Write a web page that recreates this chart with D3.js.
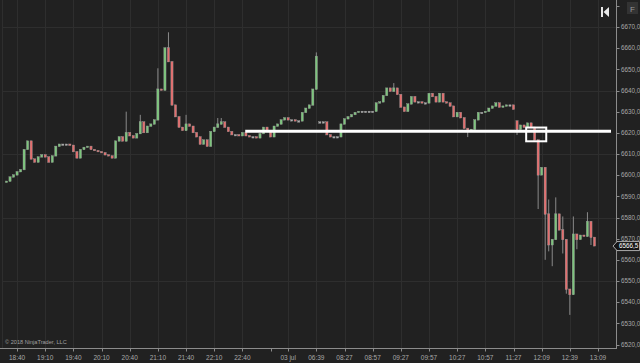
<!DOCTYPE html>
<html><head><meta charset="utf-8">
<script src="https://cdn.jsdelivr.net/npm/d3@7"></script>
<style>html,body{margin:0;padding:0;background:#212121;overflow:hidden}</style>
</head><body><svg id="c" width="640" height="363"></svg>
<script>
// ---- data (bar index -> OHLC) ----
const opens = [6596.5,6597,6599,6600,6601.5,6602.5,6612,6616,6607.5,6606,
 6608.5,6609.5,6608.5,6606,6609,6613.5,6614.5,6614.5,6614.5,6614,
 6611,6608,6612,6613,6613.5,6612,6611.5,6611,6610.5,6609.5,
 6609,6608,6616,6618,6616,6620,6618.5,6617.5,6619.5,6625,
 6620,6623,6624,6626,6640.5,6640,6660,6653.5,6633,6627.5,
 6622.5,6621,6624,6623,6620,6618,6614.5,6616.5,6613.5,6620.5,
 6622.5,6624,6625,6622.5,6620.5,6619,6619,6618.5,6620,6618.5,
 6618,6618,6617.5,6619.5,6622.5,6621,6618,6623,6624,6626,
 6627,6626,6626,6625.5,6625.5,6629.5,6631.5,6633,6640.5,6625,
 6625,6625,6619,6618,6618,6618,6624,6626.5,6627.5,6628.5,
 6629.5,6630,6630,6630,6630,6630,6634,6634.5,6637.5,6641,
 6639.5,6641,6638,6632,6630,6633.5,6637,6634.5,6634.5,6634,
 6634,6638.5,6637,6634.5,6638.5,6634.5,6634,6632.5,6627.5,6629.5,
 6627,6622,6620.5,6621.5,6626,6629.5,6629.5,6630,6631.5,6632.5,
 6634,6632,6632.5,6633,6633,6625.5,6621.5,6623.5,6622.5,6624.5,
 6622.5,6616.5,6600,6603.5,6581.5,6567,6569.5,6581.5,6574,6569.5,
 6546,6543.5,6572,6569.5,6571.5,6571,6578,6570.5];
const closes = [6597,6599,6600,6601.5,6602.5,6612,6616,6607.5,6606,6608.5,
 6609.5,6608.5,6606,6609,6613.5,6614.5,6614.5,6614.5,6614,6611,
 6608,6612,6613,6613.5,6612,6611.5,6611,6610.5,6609.5,6609,
 6608,6616,6618,6616,6620,6618.5,6617.5,6619.5,6625,6620,
 6623,6624,6626,6640.5,6640,6660,6653.5,6633,6627.5,6622.5,
 6621,6624,6623,6620,6618,6614.5,6616.5,6613.5,6620.5,6622.5,
 6624,6625,6622.5,6620.5,6619,6619,6618.5,6620,6618.5,6618,
 6618,6617.5,6619.5,6622.5,6621,6618,6623,6624,6626,6627,
 6626,6626,6625.5,6625.5,6629.5,6631.5,6633,6640.5,6656,6625,
 6625,6619,6618,6618,6618,6624,6626.5,6627.5,6628.5,6629.5,
 6630,6630,6630,6630,6630,6634,6634.5,6637.5,6641,6639.5,
 6641,6638,6632,6630,6633.5,6637,6634.5,6634.5,6634,6634,
 6638.5,6637,6634.5,6638.5,6634.5,6634,6632.5,6627.5,6629.5,6627,
 6622,6620.5,6621.5,6626,6629.5,6629.5,6630,6631.5,6632.5,6634,
 6632,6632.5,6633,6633,6631,6621.5,6623.5,6622.5,6624.5,6622.5,
 6616.5,6600,6603.5,6581.5,6567,6569.5,6581.5,6574,6569.5,6546,
 6543.5,6572,6569.5,6571.5,6571,6578,6570.5,6566.5];
// wick extremes beyond the body (bar index -> price)
const wickHigh = {34:6630,38:6628.5,43:6650.5,46:6667.5,51:6628.5,60:6627,61:6627,
  88:6658,110:6643.5,145:6625.5,154:6588.5,156:6589.5,158:6580.5,161:6580.5,165:6582.5};
const wickLow = {131:6618,145:6619,151:6584,153:6560,154:6564,155:6557,158:6563,
  159:6544,160:6534,162:6565,166:6567};

const priceTicks = d3.range(6520, 6681, 10);
const gridPrices = [6550, 6580, 6610, 6640, 6670];
const xTickIdx = [3,11,19,27,35,43,51,59,67,75,80,88,96,104,112,120,128,136,144,152,160,168];
const xTickLabels = ["18:40","19:10","19:40","20:10","20:40","21:10","21:40","22:10","22:40","","03 jul","06:39","08:27","08:57","09:27","09:57","10:27","10:57","11:27","12:09","12:39","13:09"];
const lastPrice = 6566.5;
const levelPrice = 6620.8, levelStartIdx = 67.8;
const boxIdx = [147.6, 153.3], boxPrice = [6616, 6622.5];

// ---- layout ----
const svg = d3.select("#c");
const axisX = 616, axisY = 348, plotRight = 611;
const x = d3.scaleLinear().domain([0, 168]).range([6.5, 598]);
const y = d3.scaleLinear().domain([6520, 6670]).range([344.5, 27]);
const font = "'Liberation Sans', Arial, sans-serif";

svg.append("rect").attr("width",640).attr("height",363).attr("fill","#212121");

// grid
svg.append("g").selectAll("line").data(gridPrices).join("line")
  .attr("x1",2).attr("x2",axisX).attr("y1",d=>Math.round(y(d))+0.5).attr("y2",d=>Math.round(y(d))+0.5)
  .attr("stroke","#2e2e2e").attr("stroke-width",1);
svg.append("g").selectAll("line").data(xTickIdx.filter((d,i)=>xTickLabels[i]!=="")).join("line")
  .attr("x1",d=>Math.round(x(d))+0.5).attr("x2",d=>Math.round(x(d))+0.5).attr("y1",0).attr("y2",axisY)
  .attr("stroke","#2e2e2e").attr("stroke-width",1);
svg.append("line").attr("x1",2.5).attr("x2",2.5).attr("y1",0).attr("y2",axisY).attr("stroke","#2e2e2e");

// candles
const bars = closes.map((c,i)=>{
  const o = opens[i];
  const hi = wickHigh[i] !== undefined ? wickHigh[i] : Math.max(o,c);
  const lo = wickLow[i] !== undefined ? wickLow[i] : Math.min(o,c);
  return {i,o,c,hi,lo};
});
const bw = 2.2;
const cg = svg.append("g");
cg.selectAll("line.w").data(bars.filter(b=>b.hi>Math.max(b.o,b.c)||b.lo<Math.min(b.o,b.c))).join("line")
  .attr("class","w")
  .attr("x1",b=>x(b.i)).attr("x2",b=>x(b.i))
  .attr("y1",b=>y(b.hi)).attr("y2",b=>y(b.lo))
  .attr("stroke","#8a8a8a").attr("stroke-width",1);
cg.selectAll("rect").data(bars).join("rect")
  .attr("x",b=>x(b.i)-bw/2).attr("width",bw)
  .attr("y",b=>y(Math.max(b.o,b.c))-0.5)
  .attr("height",b=>Math.max(1, Math.abs(y(b.o)-y(b.c)))+0.5)
  .attr("fill",b=>b.c>b.o?"#7cc67c":(b.c<b.o?"#e46d6d":"#b0b0b0"))
  .attr("stroke","#9c9c9c").attr("stroke-width",0.4);

// drawing objects
svg.append("line").attr("x1",x(levelStartIdx)).attr("x2",plotRight)
  .attr("y1",y(levelPrice)).attr("y2",y(levelPrice))
  .attr("stroke","#ffffff").attr("stroke-width",3);
svg.append("rect").attr("x",x(boxIdx[0])).attr("width",x(boxIdx[1])-x(boxIdx[0]))
  .attr("y",y(boxPrice[1])).attr("height",y(boxPrice[0])-y(boxPrice[1]))
  .attr("fill","none").attr("stroke","#ffffff").attr("stroke-width",2);

// axes
const axG = svg.append("g").attr("font-family",font);
axG.append("line").attr("x1",0).attr("x2",axisX).attr("y1",axisY+0.5).attr("y2",axisY+0.5).attr("stroke","#8c8c8c");
axG.append("line").attr("x1",axisX+0.5).attr("x2",axisX+0.5).attr("y1",0).attr("y2",axisY+1).attr("stroke","#8c8c8c");
axG.selectAll("line.xt").data(xTickIdx).join("line").attr("class","xt")
  .attr("x1",d=>Math.round(x(d))+0.5).attr("x2",d=>Math.round(x(d))+0.5)
  .attr("y1",axisY).attr("y2",axisY+3.5).attr("stroke","#8c8c8c");
axG.selectAll("text.xl").data(xTickIdx).join("text").attr("class","xl")
  .attr("x",d=>x(d)).attr("y",360).attr("text-anchor","middle")
  .attr("font-size","6.5px").attr("fill","#a8a8a8")
  .text((d,i)=>xTickLabels[i]);
axG.selectAll("line.yt").data(priceTicks).join("line").attr("class","yt")
  .attr("x1",axisX).attr("x2",axisX+3.5)
  .attr("y1",d=>Math.round(y(d))+0.5).attr("y2",d=>Math.round(y(d))+0.5).attr("stroke","#8c8c8c");
axG.selectAll("text.yl").data(priceTicks.filter(d=>d<=6670)).join("text").attr("class","yl")
  .attr("x",621).attr("y",d=>y(d)+2.3)
  .attr("font-size","6.3px").attr("fill","#a8a8a8")
  .text(d=>d3.format(".1f")(d).replace(".",","));

// last price marker
const ly = y(lastPrice);
svg.append("path")
  .attr("d",`M${613},${ly} L${617},${ly-4.5} L${639.5},${ly-4.5} L${639.5},${ly+4.5} L${617},${ly+4.5} Z`)
  .attr("fill","#151515").attr("stroke","#cfcfcf").attr("stroke-width",0.8);
svg.append("text").attr("x",619).attr("y",ly+2.3).attr("font-family",font)
  .attr("font-size","6.3px").attr("fill","#ffffff").text(d3.format(".1f")(lastPrice).replace(".",","));

// copyright
svg.append("text").attr("x",5).attr("y",344).attr("font-family",font)
  .attr("font-size","5.6px").attr("fill","#a0a0a0").text("© 2018 NinjaTrader, LLC");

// top-right controls
svg.append("rect").attr("x",601).attr("y",7).attr("width",2).attr("height",10).attr("fill","#e8e8e8");
svg.append("path").attr("d","M609,7 L609,17 L603.5,12 Z").attr("fill","#e8e8e8");
svg.append("rect").attr("x",627).attr("y",2).attr("width",11).attr("height",12).attr("fill","#333333");
svg.append("text").attr("x",632.5).attr("y",11.5).attr("text-anchor","middle").attr("font-family",font)
  .attr("font-size","8px").attr("fill","#9a9a9a").text("F");
</script></body></html>
